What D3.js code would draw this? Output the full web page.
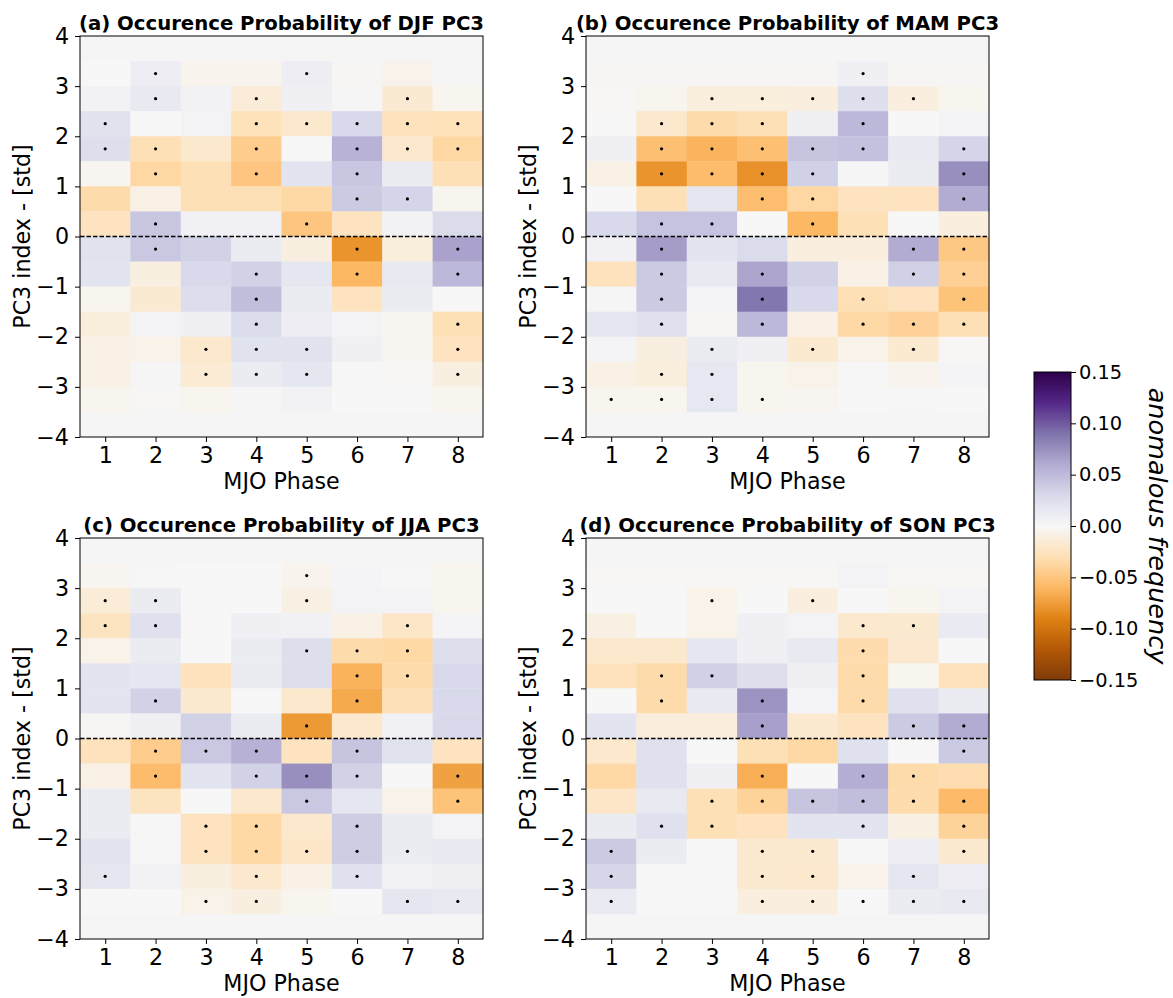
<!DOCTYPE html>
<html>
<head>
<meta charset="utf-8">
<script src="https://cdn.jsdelivr.net/npm/d3@7"></script>
<style>
  html, body { margin: 0; padding: 0; background: #ffffff; }
  svg { display: block; font-family: "DejaVu Sans", sans-serif; }
</style>
</head>
<body>
<div id="chart"></div>
<script>
// ---------------- DATA ----------------
const phases = [1, 2, 3, 4, 5, 6, 7, 8];
const pcBins = [3.25, 2.75, 2.25, 1.75, 1.25, 0.75, 0.25, -0.25, -0.75, -1.25, -1.75, -2.25, -2.75, -3.25];
const yTicks = [-4, -3, -2, -1, 0, 1, 2, 3, 4];
const cbarTicks = [-0.15, -0.10, -0.05, 0.00, 0.05, 0.10, 0.15];

const titles = [
  "(a) Occurence Probability of DJF PC3",
  "(b) Occurence Probability of MAM PC3",
  "(c) Occurence Probability of JJA PC3",
  "(d) Occurence Probability of SON PC3"
];

// rows follow pcBins (top to bottom), columns follow phases
const djfValues = [
  [0.000, 0.010, -0.005, -0.005, 0.010, -0.002, -0.006, 0.002],
  [0.005, 0.015, 0.005, -0.015, 0.007, 0.002, -0.017, -0.004],
  [0.022, 0.000, 0.004, -0.028, -0.020, 0.030, -0.027, -0.028],
  [0.025, -0.030, -0.020, -0.045, 0.000, 0.055, -0.020, -0.037],
  [-0.003, -0.037, -0.030, -0.050, 0.020, 0.043, 0.012, -0.030],
  [-0.034, -0.008, -0.030, -0.030, -0.036, 0.040, 0.033, -0.004],
  [-0.026, 0.043, 0.006, 0.006, -0.050, -0.026, 0.005, 0.028],
  [0.022, 0.042, 0.035, 0.012, -0.010, -0.080, -0.012, 0.065],
  [0.020, -0.010, 0.030, 0.035, 0.017, -0.060, 0.014, 0.052],
  [-0.004, -0.017, 0.026, 0.048, 0.012, -0.026, 0.012, 0.000],
  [-0.012, 0.004, 0.008, 0.028, 0.010, 0.004, -0.003, -0.030],
  [-0.008, -0.007, -0.020, 0.022, 0.022, 0.008, -0.003, -0.026],
  [-0.008, 0.002, -0.016, 0.012, 0.017, 0.001, -0.001, -0.010],
  [-0.004, -0.001, -0.004, 0.002, 0.005, 0.000, 0.000, -0.004]
];
const djfSig = [
  "01001000", "01010010", "10011111", "11010111", "01010100", "00000110", "01001000",
  "01000101", "00010101", "00010000", "00010001", "00111001", "00111001", "00000000"
];

const mamValues = [
  [-0.002, -0.002, -0.002, -0.002, -0.002, 0.008, -0.002, -0.002],
  [-0.001, -0.004, -0.012, -0.012, -0.011, 0.024, -0.011, -0.004],
  [0.000, -0.020, -0.034, -0.030, 0.008, 0.052, 0.000, 0.004],
  [0.008, -0.055, -0.062, -0.055, 0.044, 0.046, 0.015, 0.033],
  [-0.008, -0.080, -0.057, -0.082, 0.036, 0.002, 0.012, 0.075],
  [0.000, -0.030, 0.017, -0.056, -0.037, -0.026, -0.026, 0.060],
  [0.030, 0.045, 0.045, 0.000, -0.060, -0.030, 0.000, -0.011],
  [0.006, 0.068, 0.020, 0.028, -0.011, -0.011, 0.060, -0.048],
  [-0.027, 0.040, 0.014, 0.063, 0.035, -0.008, 0.036, -0.042],
  [0.002, 0.040, 0.003, 0.088, 0.030, -0.030, -0.026, -0.052],
  [0.018, 0.023, -0.002, 0.052, -0.008, -0.036, -0.041, -0.030],
  [0.003, -0.010, 0.012, 0.008, -0.018, -0.007, -0.018, -0.001],
  [-0.008, -0.012, 0.016, -0.004, -0.007, 0.001, -0.005, 0.003],
  [-0.004, -0.004, 0.016, -0.004, -0.003, 0.000, 0.001, 0.000]
];
const mamSig = [
  "00000100", "00111110", "01110100", "01111101", "01111001", "00011001", "01101000",
  "01000011", "01010011", "01010101", "01010111", "00101010", "01100000", "11110000"
];

const jjaValues = [
  [-0.003, 0.001, 0.000, 0.000, -0.005, 0.003, 0.001, -0.004],
  [-0.015, 0.012, 0.000, 0.000, -0.009, 0.004, 0.003, -0.004],
  [-0.025, 0.023, 0.000, 0.008, 0.006, -0.008, -0.022, 0.003],
  [-0.007, 0.012, 0.000, 0.012, 0.025, -0.034, -0.036, 0.025],
  [0.020, 0.017, -0.027, 0.012, 0.025, -0.063, -0.034, 0.030],
  [0.020, 0.035, -0.018, 0.000, -0.020, -0.068, -0.029, 0.030],
  [-0.002, 0.008, 0.035, 0.012, -0.077, -0.020, 0.006, 0.030],
  [-0.027, -0.045, 0.042, 0.056, -0.026, 0.044, 0.022, -0.026],
  [-0.008, -0.057, 0.020, 0.035, 0.075, 0.035, 0.000, -0.073],
  [0.012, -0.025, 0.000, -0.020, 0.042, 0.017, -0.007, -0.052],
  [0.012, 0.001, -0.026, -0.036, -0.020, 0.038, 0.012, 0.004],
  [0.020, 0.001, -0.026, -0.036, -0.022, 0.038, 0.012, 0.014],
  [0.017, 0.005, -0.010, -0.020, -0.008, 0.023, 0.005, 0.008],
  [0.000, 0.000, -0.007, -0.010, -0.004, 0.000, 0.017, 0.015]
];
const jjaSig = [
  "00001000", "11001000", "11000010", "00001110", "00000110", "01000100", "00001000",
  "01110100", "01011101", "00001001", "00110100", "00111110", "10010100", "00110011"
];

const sonValues = [
  [-0.001, -0.001, -0.001, -0.001, -0.001, 0.004, -0.001, -0.001],
  [0.000, 0.000, -0.007, 0.000, -0.011, 0.000, -0.004, 0.004],
  [-0.009, 0.000, -0.007, 0.007, 0.004, -0.020, -0.018, 0.013],
  [-0.020, -0.020, 0.017, 0.008, 0.015, -0.033, -0.019, 0.000],
  [-0.027, -0.034, 0.036, 0.025, 0.008, -0.034, -0.004, -0.027],
  [0.000, -0.034, 0.015, 0.073, 0.003, -0.034, 0.023, 0.012],
  [0.020, -0.013, -0.013, 0.066, -0.018, -0.026, 0.040, 0.060],
  [-0.020, 0.023, 0.000, -0.030, -0.036, 0.023, 0.000, 0.040],
  [-0.036, 0.023, 0.008, -0.065, 0.000, 0.058, -0.034, -0.032],
  [-0.022, 0.015, -0.030, -0.040, 0.044, 0.048, -0.033, -0.058],
  [0.012, 0.023, -0.030, -0.026, 0.020, 0.020, -0.009, -0.040],
  [0.040, 0.012, 0.000, -0.018, -0.018, 0.000, 0.010, -0.018],
  [0.032, 0.000, 0.000, -0.018, -0.020, -0.006, 0.017, 0.010],
  [0.013, 0.000, 0.000, -0.011, -0.011, 0.000, 0.012, 0.014]
];
const sonSig = [
  "00000000", "00101000", "00000110", "00000100", "01100100", "01010100", "00010011",
  "00000001", "00010110", "00111111", "01100101", "10011001", "10011010", "10011111"
];

const panelValues = [djfValues, mamValues, jjaValues, sonValues];
const panelSig = [djfSig, mamSig, jjaSig, sonSig];

// matplotlib PuOr stops (from -0.15 brown to +0.15 dark purple)
const puorStops = ["#7f3b08", "#b35806", "#e08214", "#fdb863", "#fee0b6", "#f7f7f7",
                   "#d8daeb", "#b2abd2", "#8073ac", "#542788", "#2d004b"];

// ---------------- DRAWING ----------------
const W = 1173, H = 998;
const svg = d3.select("#chart").append("svg").attr("width", W).attr("height", H);

const vmin = -0.15, vmax = 0.15;
const color = d3.scaleLinear()
  .domain(d3.range(puorStops.length).map(i => vmin + i * (vmax - vmin) / (puorStops.length - 1)))
  .range(puorStops)
  .interpolate(d3.interpolateRgb)
  .clamp(true);

const panels = [
  { x: 80, y: 36 },
  { x: 586, y: 36 },
  { x: 80, y: 538 },
  { x: 586, y: 538 }
];
const pw = 403, ph = 401;
const tickFont = 22.2;
const cbFont = 19.4;
const minus = d => (d < 0 ? "\u2212" : "");

panels.forEach((p, k) => {
  const g = svg.append("g").attr("transform", `translate(${p.x},${p.y})`);
  const x = d3.scaleLinear().domain([0.5, 8.5]).range([0, pw]);
  const y = d3.scaleLinear().domain([-4, 4]).range([ph, 0]);

  g.append("rect").attr("width", pw).attr("height", ph).attr("fill", "#f5f5f5");

  const vals = panelValues[k];
  const sig = panelSig[k];
  const cells = [];
  pcBins.forEach((b, r) => phases.forEach((phs, c) => {
    cells.push({ phase: phs, bin: b, v: vals[r][c], s: sig[r][c] === "1" });
  }));

  g.selectAll("rect.cell").data(cells).enter().append("rect")
    .attr("class", "cell")
    .attr("x", d => x(d.phase - 0.5))
    .attr("y", d => y(d.bin + 0.25))
    .attr("width", d => x(d.phase + 0.5) - x(d.phase - 0.5) + 0.3)
    .attr("height", d => y(d.bin - 0.25) - y(d.bin + 0.25) + 0.3)
    .attr("fill", d => color(d.v));

  g.selectAll("circle.sig").data(cells.filter(d => d.s)).enter().append("circle")
    .attr("class", "sig")
    .attr("cx", d => x(d.phase))
    .attr("cy", d => y(d.bin))
    .attr("r", 1.6)
    .attr("fill", "#000");

  // zero dashed line
  g.append("line")
    .attr("x1", 0).attr("x2", pw)
    .attr("y1", y(0)).attr("y2", y(0))
    .attr("stroke", "#000").attr("stroke-width", 1.3)
    .attr("stroke-dasharray", "4.5,2");

  // axes
  const xAxis = d3.axisBottom(x).tickValues(phases).tickSize(5).tickPadding(5).tickFormat(d3.format("d"));
  const yAxis = d3.axisLeft(y).tickValues(yTicks).tickSize(5).tickPadding(6)
    .tickFormat(d => minus(d) + Math.abs(d));

  const gx = g.append("g").attr("transform", `translate(0,${ph})`).call(xAxis);
  const gy = g.append("g").call(yAxis);
  [gx, gy].forEach(a => {
    a.select(".domain").remove();
    a.selectAll("line").attr("stroke", "#000").attr("stroke-width", 1);
    a.selectAll("text").attr("font-size", tickFont).attr("fill", "#000")
      .attr("font-family", "DejaVu Sans, sans-serif");
  });

  // frame
  g.append("rect").attr("width", pw).attr("height", ph)
    .attr("fill", "none").attr("stroke", "#000").attr("stroke-width", 1);

  // title
  g.append("text")
    .attr("x", pw / 2).attr("y", -6)
    .attr("text-anchor", "middle")
    .attr("font-size", 19.7).attr("font-weight", "bold")
    .text(titles[k]);

  // x label
  g.append("text")
    .attr("x", pw / 2).attr("y", ph + 52)
    .attr("text-anchor", "middle")
    .attr("font-size", tickFont)
    .text("MJO Phase");

  // y label
  g.append("text")
    .attr("transform", `translate(-58,${ph / 2}) rotate(-90)`)
    .attr("dy", "0.35em")
    .attr("text-anchor", "middle")
    .attr("font-size", tickFont)
    .text("PC3 index - [std]");
});

// ---------------- COLORBAR ----------------
const cb = { x: 1034, y: 372, w: 37, h: 308 };
const cy = d3.scaleLinear().domain([vmin, vmax]).range([cb.h, 0]);
const defs = svg.append("defs");
const grad = defs.append("linearGradient").attr("id", "cbgrad")
  .attr("x1", 0).attr("y1", 1).attr("x2", 0).attr("y2", 0);
puorStops.forEach((c, i) => {
  grad.append("stop").attr("offset", i / (puorStops.length - 1)).attr("stop-color", c);
});
const cg = svg.append("g").attr("transform", `translate(${cb.x},${cb.y})`);
cg.append("rect").attr("width", cb.w).attr("height", cb.h).attr("fill", "url(#cbgrad)");
cg.append("rect").attr("width", cb.w).attr("height", cb.h)
  .attr("fill", "none").attr("stroke", "#000").attr("stroke-width", 1);
const cAxis = d3.axisRight(cy).tickValues(cbarTicks).tickSize(5).tickPadding(3)
  .tickFormat(d => minus(d) + Math.abs(d).toFixed(2));
const gc = cg.append("g").attr("transform", `translate(${cb.w},0)`).call(cAxis);
gc.select(".domain").remove();
gc.selectAll("line").attr("stroke", "#000");
gc.selectAll("text").attr("font-size", cbFont).attr("fill", "#000")
  .attr("font-family", "DejaVu Sans, sans-serif");
cg.append("text")
  .attr("transform", `translate(${1149 - cb.x},${cb.h / 2}) rotate(90)`)
  .attr("text-anchor", "middle")
  .attr("font-size", 25.5)
  .attr("font-style", "italic")
  .text("anomalous frequency");
</script>
</body>
</html>
